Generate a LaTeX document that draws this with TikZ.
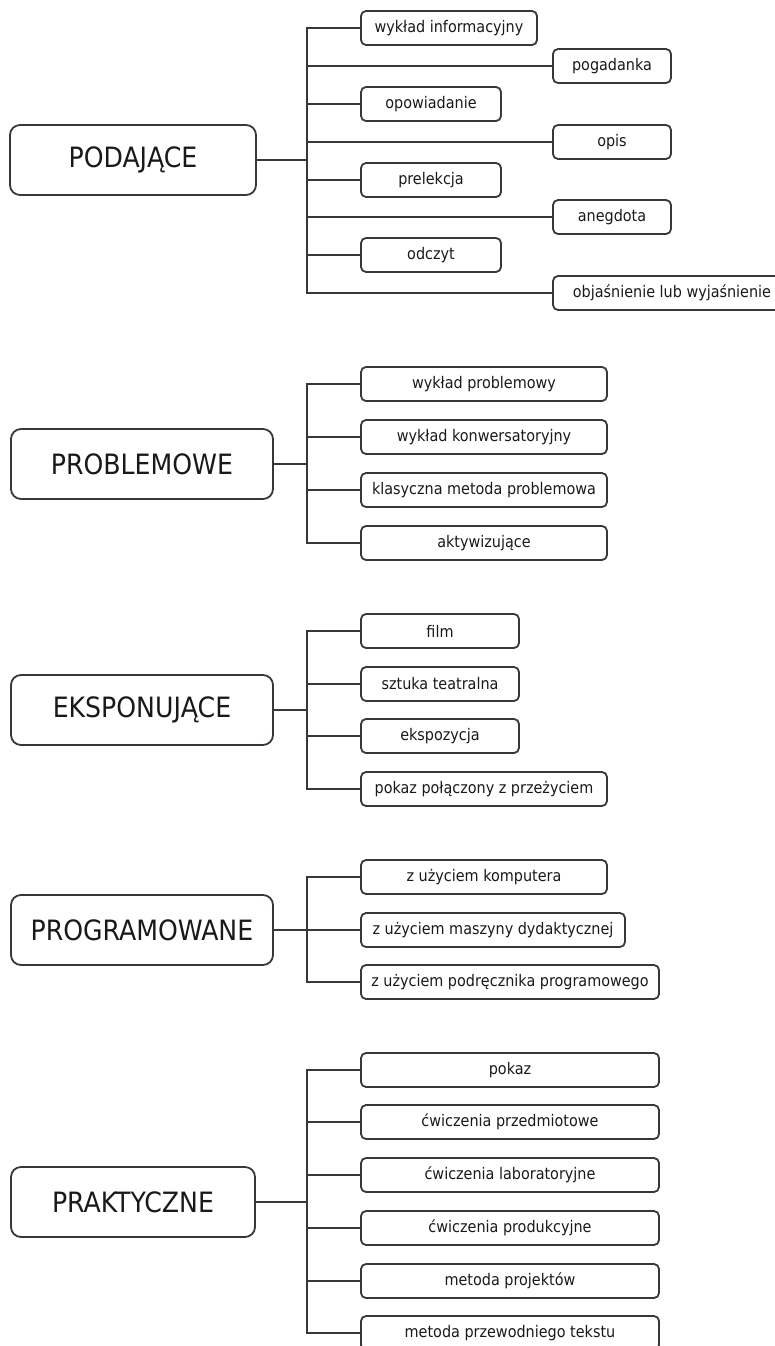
\documentclass[tikz,border=0pt]{standalone}
\usepackage{fontspec}
\setmainfont{DejaVu Sans Condensed}
\begin{document}
\begin{tikzpicture}[x=1pt,y=-1pt,
  ink/.style={draw=black!78, line width=1.8pt},
  mainbox/.style={ink, rounded corners=10pt, minimum height=70pt, inner sep=0pt,
    font=\fontsize{28}{32}\selectfont, text=black!90},
  leaf/.style={ink, rounded corners=5pt, minimum height=34pt, inner sep=0pt,
    font=\fontsize{16}{19}\selectfont, text=black!90},
  link/.style={ink, line cap=rect}]
\useasboundingbox (0,0) rectangle (775,1346);

% ---------- PODAJĄCE ----------
\node[mainbox, minimum width=246pt] (m1) at (133,160) {PODAJĄCE};
\coordinate (t1) at (307,160);
\node[leaf, minimum width=176pt] (a1) at (449,28)    {wykład informacyjny};
\node[leaf, minimum width=118pt] (a2) at (612,66)    {pogadanka};
\node[leaf, minimum width=140pt] (a3) at (431,104)   {opowiadanie};
\node[leaf, minimum width=118pt] (a4) at (612,142)   {opis};
\node[leaf, minimum width=140pt] (a5) at (431,180)   {prelekcja};
\node[leaf, minimum width=118pt] (a6) at (612,217)   {anegdota};
\node[leaf, minimum width=140pt] (a7) at (431,255)   {odczyt};
\node[leaf, minimum width=238pt] (a8) at (672,293)   {objaśnienie lub wyjaśnienie};
\draw[link] (m1.east) -- (m1.east -| t1);
\draw[link] (a1.west -| t1) -- (a8.west -| t1);
\foreach \n in {a1,a2,a3,a4,a5,a6,a7,a8}
  \draw[link] (\n.west -| t1) -- (\n.west);

% ---------- PROBLEMOWE ----------
\node[mainbox, minimum width=262pt] (m2) at (142,464) {PROBLEMOWE};
\coordinate (t2) at (307,464);
\node[leaf, minimum width=246pt] (b1) at (484,384) {wykład problemowy};
\node[leaf, minimum width=246pt] (b2) at (484,437) {wykład konwersatoryjny};
\node[leaf, minimum width=246pt] (b3) at (484,490) {klasyczna metoda problemowa};
\node[leaf, minimum width=246pt] (b4) at (484,543) {aktywizujące};
\draw[link] (m2.east) -- (m2.east -| t2);
\draw[link] (b1.west -| t2) -- (b4.west -| t2);
\foreach \n in {b1,b2,b3,b4}
  \draw[link] (\n.west -| t2) -- (\n.west);

% ---------- EKSPONUJĄCE ----------
\node[mainbox, minimum width=262pt] (m3) at (142,710) {EKSPONUJĄCE};
\coordinate (t3) at (307,710);
\node[leaf, minimum width=158pt] (c1) at (440,631) {film};
\node[leaf, minimum width=158pt] (c2) at (440,684) {sztuka teatralna};
\node[leaf, minimum width=158pt] (c3) at (440,736) {ekspozycja};
\node[leaf, minimum width=246pt] (c4) at (484,789) {pokaz połączony z przeżyciem};
\draw[link] (m3.east) -- (m3.east -| t3);
\draw[link] (c1.west -| t3) -- (c4.west -| t3);
\foreach \n in {c1,c2,c3,c4}
  \draw[link] (\n.west -| t3) -- (\n.west);

% ---------- PROGRAMOWANE ----------
\node[mainbox, minimum width=262pt] (m4) at (142,930) {PROGRAMOWANE};
\coordinate (t4) at (307,930);
\node[leaf, minimum width=246pt] (d1) at (484,877) {z użyciem komputera};
\node[leaf, minimum width=264pt] (d2) at (493,930) {z użyciem maszyny dydaktycznej};
\node[leaf, minimum width=298pt] (d3) at (510,982) {z użyciem podręcznika programowego};
\draw[link] (m4.east) -- (m4.east -| t4);
\draw[link] (d1.west -| t4) -- (d3.west -| t4);
\foreach \n in {d1,d2,d3}
  \draw[link] (\n.west -| t4) -- (\n.west);

% ---------- PRAKTYCZNE ----------
\node[mainbox, minimum width=244pt] (m5) at (133,1202) {PRAKTYCZNE};
\coordinate (t5) at (307,1202);
\node[leaf, minimum width=298pt] (e1) at (510,1070) {pokaz};
\node[leaf, minimum width=298pt] (e2) at (510,1122) {ćwiczenia przedmiotowe};
\node[leaf, minimum width=298pt] (e3) at (510,1175) {ćwiczenia laboratoryjne};
\node[leaf, minimum width=298pt] (e4) at (510,1228) {ćwiczenia produkcyjne};
\node[leaf, minimum width=298pt] (e5) at (510,1281) {metoda projektów};
\node[leaf, minimum width=298pt] (e6) at (510,1333) {metoda przewodniego tekstu};
\draw[link] (m5.east) -- (m5.east -| t5);
\draw[link] (e1.west -| t5) -- (e6.west -| t5);
\foreach \n in {e1,e2,e3,e4,e5,e6}
  \draw[link] (\n.west -| t5) -- (\n.west);
\end{tikzpicture}
\end{document}
